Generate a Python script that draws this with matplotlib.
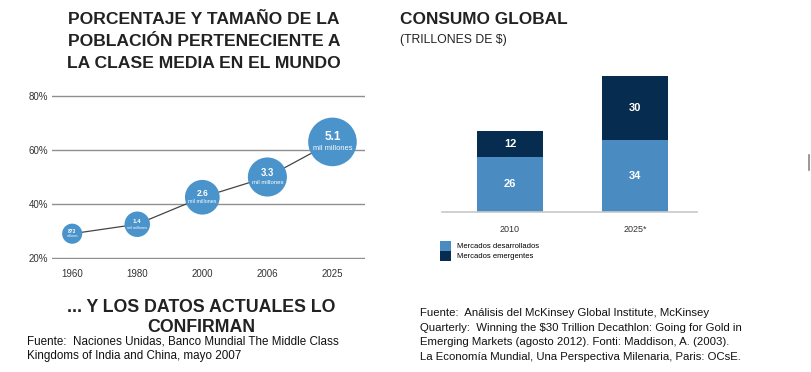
import numpy as np
import matplotlib
matplotlib.use('Agg')
import matplotlib.pyplot as plt
from matplotlib.lines import Line2D

plt.rcParams['font.family'] = ['Liberation Sans', 'DejaVu Sans']

# left chart: share of world population in the middle class, bubble = size
years = ['1960', '1980', '2000', '2006', '2025']
share = [29, 32.5, 42.5, 50, 63]
pop_bn = [0.873, 1.4, 2.6, 3.3, 5.1]
pop_num = ['873', '1.4', '2.6', '3.3', '5.1']
pop_unit = ['millones', 'mil millones', 'mil millones', 'mil millones', 'mil millones']
y_ticks = [20, 40, 60, 80]

# right chart: global consumption (trillions of $)
periods = ['2010', '2025*']
developed = [26, 34]
emerging = [12, 30]
series_names = ['Mercados desarrollados', 'Mercados emergentes']

BUBBLE = '#4a93cb'
LIGHT = '#4a8bc1'
DARK = '#062d50'
TXT = '#222222'

W, H = 812, 372
fig = plt.figure(figsize=(W / 100, H / 100), dpi=100)
fig.patch.set_facecolor('white')

def fx(px):
    return px / W

def fy(py):
    return 1 - py / H

# ---- left bubble chart (2.7 px per %)
ax = fig.add_axes([fx(52), fy(259.35), (365 - 52) / W, (259.35 - 94.65) / H])
xs = np.arange(len(years))
ax.set_xlim(-0.31, 4.5)
ax.set_ylim(19.5, 80.5)
ax.set_yticks(y_ticks)
ax.set_yticklabels([f'{v}%' for v in y_ticks])
ax.grid(True, axis='y', color='#8f8f8f', linewidth=1.0)
ax.set_axisbelow(True)
for s in ax.spines.values():
    s.set_visible(False)
ax.tick_params(length=0, labelsize=7, colors='#333333')
ax.tick_params(axis='x', pad=7)
ax.tick_params(axis='y', pad=3)
ax.set_xticks(xs)
ax.set_xticklabels(years)

ax.plot(xs, share, color='#444444', linewidth=0.9, zorder=2)
sizes = [240 * p for p in pop_bn]
ax.scatter(xs, share, s=sizes, color=BUBBLE, zorder=3, edgecolors='none', clip_on=False)
for x, y, p, num, unit in zip(xs, share, pop_bn, pop_num, pop_unit):
    r = np.sqrt(240 * p) / 2  # radius in points
    k = r / 17.5
    ax.annotate(num, (x, y), xytext=(0, 3.4 * k), textcoords='offset points',
                ha='center', va='center', color='white', fontsize=8.6 * k,
                fontweight='bold', zorder=4)
    ax.annotate(unit, (x, y), xytext=(0, -4.6 * k), textcoords='offset points',
                ha='center', va='center', color='white', fontsize=5.4 * k, zorder=4)

# ---- right stacked bars
bx = fig.add_axes([fx(442), fy(212), (697 - 442) / W, 136 / H])
bpos = np.arange(len(periods))
b1 = bx.bar(bpos, developed, width=0.53, color=LIGHT, label=series_names[0])
b2 = bx.bar(bpos, emerging, width=0.53, bottom=developed, color=DARK, label=series_names[1])
for x, d, e in zip(bpos, developed, emerging):
    bx.text(x, d / 2, str(d), ha='center', va='center', color='white',
            fontsize=8, fontweight='bold')
    bx.text(x, d + e / 2, str(e), ha='center', va='center', color='white',
            fontsize=8, fontweight='bold')
bx.set_xlim(-0.544, 1.496)
bx.set_ylim(0, 64)
for side in ['top', 'right', 'left']:
    bx.spines[side].set_visible(False)
bx.spines['bottom'].set_color('#c8c8c8')
bx.spines['bottom'].set_linewidth(1.2)
bx.set_yticks([])
bx.set_xticks(bpos)
bx.set_xticklabels(periods)
bx.tick_params(length=0, labelsize=6.5, colors='#333333', pad=9)

fig.legend(handles=[b1, b2], labels=series_names, loc='upper left',
           bbox_to_anchor=(fx(437), fy(238)), frameon=False, fontsize=5.5,
           handlelength=1.4, handleheight=1.6, labelspacing=0.0,
           handletextpad=0.8, borderaxespad=0)

# ---- titles
title_left = ['PORCENTAJE Y TAMAÑO DE LA', 'POBLACIÓN PERTENECIENTE A',
              'LA CLASE MEDIA EN EL MUNDO']
for i, line in enumerate(title_left):
    fig.text(fx(204), fy(19 + 22 * i), line, ha='center', va='center',
             fontsize=12.6, fontweight='bold', color=TXT)

fig.text(fx(400), fy(19), 'CONSUMO GLOBAL', ha='left', va='center',
         fontsize=12.4, fontweight='bold', color=TXT)
fig.text(fx(400), fy(40), '(TRILLONES DE $)', ha='left', va='center',
         fontsize=8.8, color=TXT)

fig.text(fx(201), fy(308), '... Y LOS DATOS ACTUALES LO', ha='center', va='center',
         fontsize=12.8, fontweight='bold', color=TXT)
fig.text(fx(201), fy(328), 'CONFIRMAN', ha='center', va='center',
         fontsize=12.8, fontweight='bold', color=TXT)

src_left = ['Fuente:  Naciones Unidas, Banco Mundial The Middle Class',
            'Kingdoms of India and China, mayo 2007']
for i, line in enumerate(src_left):
    fig.text(fx(27), fy(342 + 14.5 * i), line, ha='left', va='center',
             fontsize=8.35, color='#111111')

src_right = ['Fuente:  Análisis del McKinsey Global Institute, McKinsey',
             'Quarterly:  Winning the $30 Trillion Decathlon: Going for Gold in',
             'Emerging Markets (agosto 2012). Fonti: Maddison, A. (2003).',
             'La Economía Mundial, Una Perspectiva Milenaria, Paris: OCsE.']
for i, line in enumerate(src_right):
    fig.text(fx(420), fy(313 + 14.6 * i), line, ha='left', va='center',
             fontsize=8.2, color='#111111')

# small grey mark at the right edge
fig.add_artist(Line2D([fx(809), fx(809)], [fy(155), fy(170)], color='#888888',
                      linewidth=1.2))

fig.savefig('out.png', dpi=100, facecolor='white')
